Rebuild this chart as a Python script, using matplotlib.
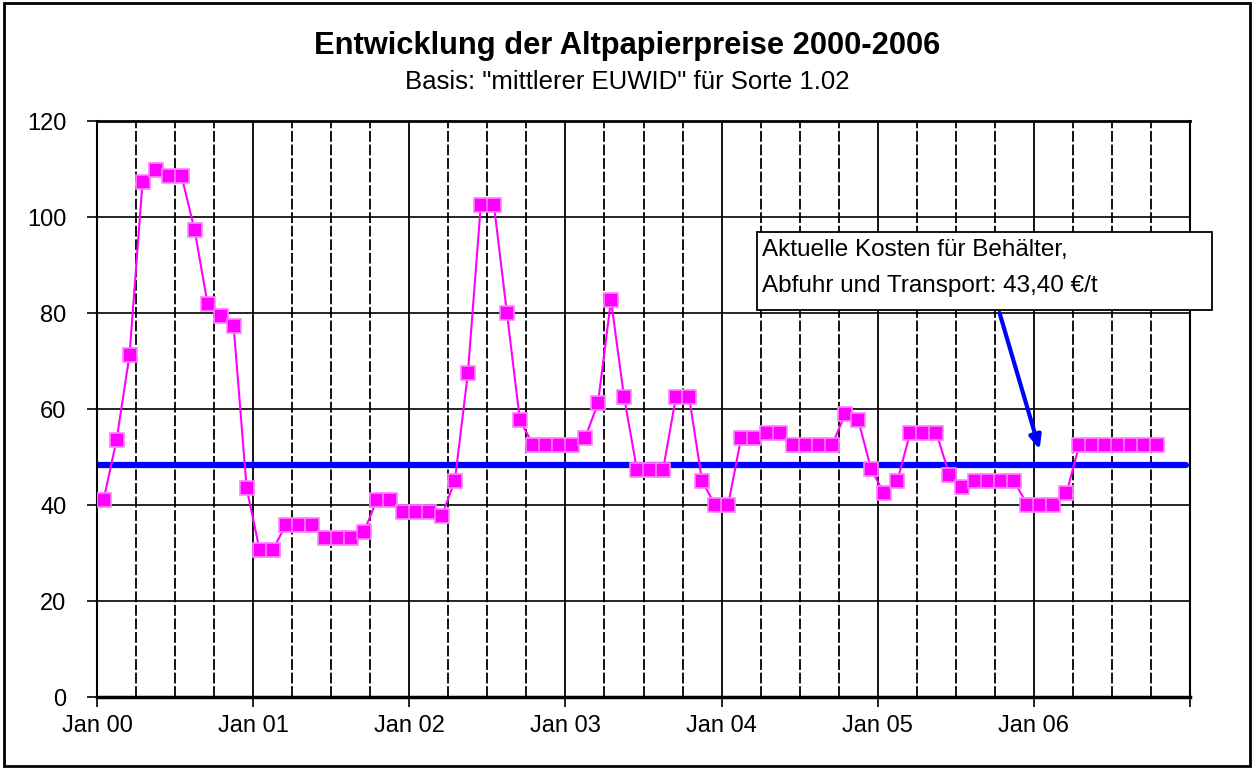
import numpy as np
import matplotlib.pyplot as plt
from matplotlib.patches import Rectangle

plt.rcParams['font.family'] = ['Liberation Sans', 'DejaVu Sans']

# monthly price, Jan 2000 .. Oct 2006 (EUR/t)
prices = [
    41.0, 53.5, 71.3, 107.3, 109.8, 108.5, 108.5, 97.3, 81.9, 79.4, 77.3, 43.5,   # 2000
    30.6, 30.6, 35.8, 35.8, 35.8, 33.1, 33.1, 33.1, 34.3, 41.0, 41.0, 38.5,       # 2001
    38.5, 38.5, 37.8, 45.0, 67.4, 102.6, 102.6, 80.1, 57.7, 52.6, 52.6, 52.6,     # 2002
    52.6, 53.9, 61.2, 82.7, 62.6, 47.3, 47.3, 47.3, 62.6, 62.6, 45.0, 40.0,       # 2003
    40.0, 53.9, 53.9, 55.1, 55.1, 52.6, 52.6, 52.6, 52.6, 58.9, 57.7, 47.4,       # 2004
    42.4, 44.9, 55.1, 55.1, 55.1, 46.3, 43.7, 44.9, 44.9, 44.9, 44.9, 40.0,       # 2005
    40.0, 40.0, 42.4, 52.6, 52.6, 52.6, 52.6, 52.6, 52.6, 52.6,                   # 2006
]
cost_level = 48.4
year_labels = ["Jan 00", "Jan 01", "Jan 02", "Jan 03", "Jan 04", "Jan 05", "Jan 06", ""]

months = np.arange(len(prices)) + 0.5

fig = plt.figure(figsize=(12.54, 7.69), dpi=100)
ax = fig.add_axes([97/1254, 1-697/769, (1190-97)/1254, (697-121)/769])

# grid: quarters dashed, years solid
for q in range(3, 84, 3):
    if q % 12 == 0:
        ax.axvline(q, color='black', lw=1.3, zorder=1)
    else:
        ax.axvline(q, color='black', lw=1.3, ls=(0, (6, 1.5)), zorder=1)
for yv in range(20, 120, 20):
    ax.axhline(yv, color='black', lw=1.2, zorder=1)

ax.hlines(cost_level, 0, 83.7, color='#0000FF', lw=4.5, capstyle='round', zorder=2)

ax.plot(months, prices, color='#FF00FF', lw=1.5, marker='s', markersize=9.5,
        markerfacecolor='#FF00FF', markeredgecolor='#FF80FF', markeredgewidth=1.2, zorder=3)

ax.set_xlim(0, 84)
ax.set_ylim(0, 120)
ax.set_xticks(range(0, 85, 12))
ax.set_xticklabels(year_labels)
ax.set_yticks(range(0, 121, 20))
ax.tick_params(axis='both', labelsize=17, length=7, width=1.2, direction='out', colors='black')
ax.tick_params(axis='x', pad=6)
ax.tick_params(axis='y', pad=15)
for s in ax.spines.values():
    s.set_linewidth(1.5)
ax.spines['bottom'].set_linewidth(2.5)
ax.spines['top'].set_linewidth(2)

ax.annotate('', xy=(72.5, 51.0), xytext=(69.3, 80.6),
            arrowprops=dict(arrowstyle='-|>,head_length=0.8,head_width=0.35', color='#0000FF', lw=3),
            zorder=5)

# annotation box
fig.patches.append(Rectangle((757/1254, 1-310/769), (1212-757)/1254, (310-232)/769,
                             transform=fig.transFigure, facecolor='white', edgecolor='black',
                             lw=1.3, zorder=6))
fig.text(762/1254, 1-250/769, "Aktuelle Kosten für Behälter,", fontsize=17.5,
         va='center', ha='left', zorder=7)
fig.text(762/1254, 1-286/769, "Abfuhr und Transport: 43,40 €/t", fontsize=17.5,
         va='center', ha='left', zorder=7)

fig.text(0.5, 1-46/769, "Entwicklung der Altpapierpreise 2000-2006", fontsize=22.2,
         fontweight='bold', ha='center', va='center')
fig.text(0.5, 1-82/769, 'Basis: "mittlerer EUWID" für Sorte 1.02', fontsize=18.5,
         ha='center', va='center')

fig.patches.append(Rectangle((0.003, 0.004), 0.994, 0.992, transform=fig.transFigure,
                             fill=False, edgecolor='black', lw=2))

fig.savefig('out.png', dpi=100)
